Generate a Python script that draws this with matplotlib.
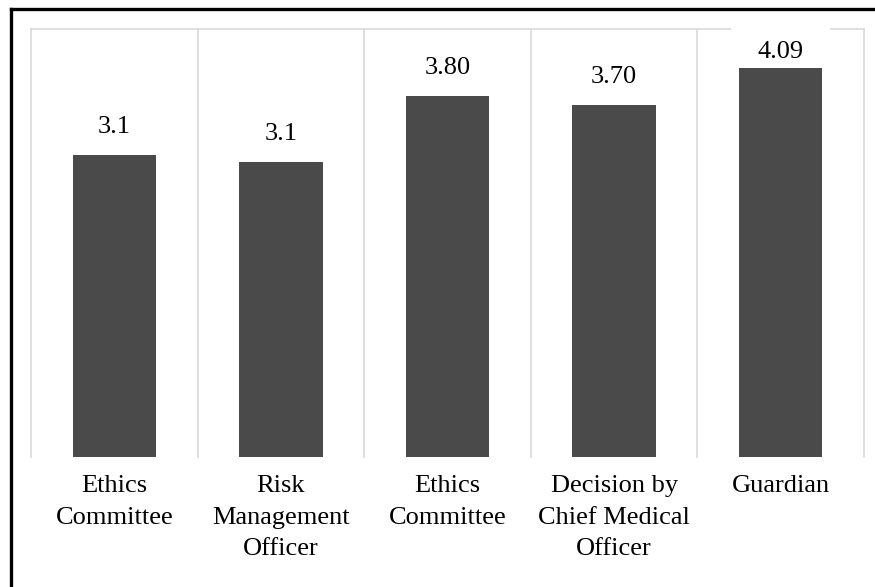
import matplotlib.pyplot as plt
from matplotlib.lines import Line2D

categories = ["Ethics\nCommittee", "Risk\nManagement\nOfficer", "Ethics\nCommittee",
              "Decision by\nChief Medical\nOfficer", "Guardian"]
values = [3.18, 3.10, 3.80, 3.70, 4.09]
value_labels = ["3.1", "3.1", "3.80", "3.70", "4.09"]

plt.rcParams['font.family'] = ['Liberation Serif', 'DejaVu Serif']

fig = plt.figure(figsize=(8.75, 5.87), dpi=100)
ax = fig.add_axes([31 / 875, 1 - 457 / 587, 833 / 875, 428 / 587])

x = range(len(values))
ax.bar(x, values, width=0.5, color='#4a4a4a', zorder=3)
ax.set_xlim(-0.5, len(values) - 0.5)
ax.set_ylim(0, 4.5)

# light gray frame lines between the categories and along the top
grid_col = '#d9d9d9'
for b in range(len(values) + 1):
    ax.axvline(b - 0.5, color=grid_col, lw=1.2, zorder=1, clip_on=False)
ax.axhline(4.5, color=grid_col, lw=1.2, zorder=1, clip_on=False)

for i, (v, lab) in enumerate(zip(values, value_labels)):
    ty = min(v + 0.23, 4.2)
    ax.text(i, ty, lab, ha='center', va='baseline', fontsize=19, zorder=2.5,
            bbox=dict(boxstyle='square,pad=1.0', fc='white', ec='none'))

for s in ax.spines.values():
    s.set_visible(False)
ax.set_yticks([])
ax.set_xticks(list(x))
ax.set_xticklabels(categories, fontsize=19, linespacing=1.57)
ax.tick_params(axis='x', length=0, pad=13)

# black border on the left and top (picture is cropped on the other sides)
fig.add_artist(Line2D([10.5 / 875, 10.5 / 875], [0, 1 - 8.5 / 587], color='black', lw=2.4,
                      transform=fig.transFigure))
fig.add_artist(Line2D([10.5 / 875, 1], [1 - 8.5 / 587, 1 - 8.5 / 587], color='black', lw=2.4,
                      transform=fig.transFigure))

fig.savefig('out.png', dpi=100)
